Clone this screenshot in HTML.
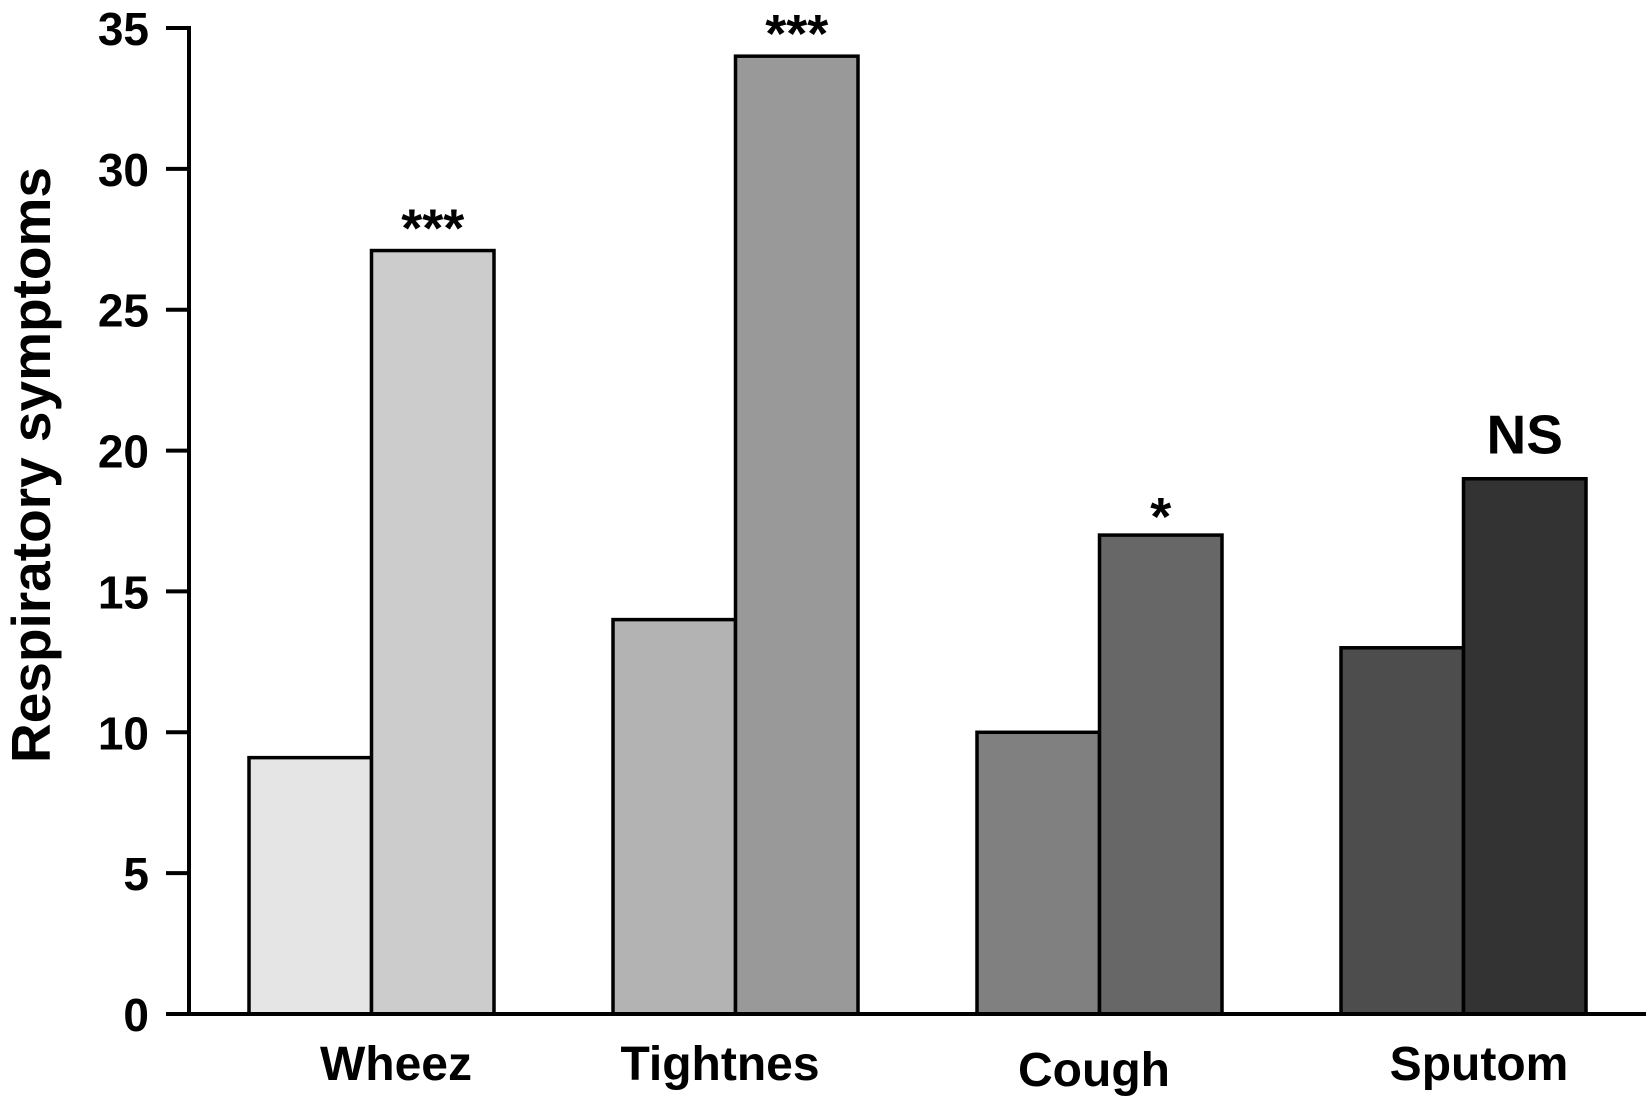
<!DOCTYPE html>
<html><head><meta charset="utf-8"><style>
html,body{margin:0;padding:0;background:#fff;}
svg{display:block;font-family:"Liberation Sans",Arial,sans-serif;font-weight:bold;}
</style></head><body>
<svg id="chart" width="1646" height="1097" viewBox="0 0 1646 1097"></svg>
<script>
const categories = ["Wheez","Tightnes","Cough","Sputom"];
const seriesA = [9.1,14,10,13];
const seriesB = [27.1,34,17,19];
const sigLabels = ["***","***","*","NS"];
const yTicks = [0,5,10,15,20,25,30,35];
const fillsA = ["#e5e5e5","#b3b3b3","#808080","#4d4d4d"];
const fillsB = ["#cccccc","#999999","#676767","#333333"];
const labelOffsets = [147,107,117,138];
const labelBaselines = [1080,1080,1086,1080];

const NS="http://www.w3.org/2000/svg";
const svg=document.getElementById('chart');
const y0=1014, pxPerUnit=986/35;
function yScale(v){return y0-v*pxPerUnit;}
function xGroup(i){return 249+364*i;}
const bw=122.5;
function mk(tag,attrs){const e=document.createElementNS(NS,tag);for(const k in attrs)e.setAttribute(k,attrs[k]);svg.appendChild(e);return e;}

categories.forEach((c,i)=>{
  const x=xGroup(i);
  const a=mk('rect',{x:x,y:yScale(seriesA[i]),width:bw,height:y0-yScale(seriesA[i]),fill:fillsA[i],stroke:'#000','stroke-width':3.5});
  
  
  const b=mk('rect',{x:x+bw,y:yScale(seriesB[i]),width:bw,height:y0-yScale(seriesB[i]),fill:fillsB[i],stroke:'#000','stroke-width':3.5});
  
  
  const isNS=sigLabels[i]==='NS';
  const s=mk('text',{x:x+bw*1.5,'text-anchor':'middle',y:isNS?yScale(seriesB[i])-25:yScale(seriesB[i])+(sigLabels[i]==='*'?0:-4),'font-size':isNS?55:54});
  s.textContent=sigLabels[i];
  
  
  const l=mk('text',{x:x+labelOffsets[i],y:labelBaselines[i],'text-anchor':'middle','font-size':48});
  l.textContent=c;
  
  
});

const ya=mk('line',{x1:189,y1:26,x2:189,y2:y0+1.5,stroke:'#000','stroke-width':4});


const xa=mk('line',{x1:187,y1:y0,x2:1646,y2:y0,stroke:'#000','stroke-width':4});


yTicks.forEach(t=>{
  const ln=mk('line',{x1:166,y1:yScale(t),x2:189,y2:yScale(t),stroke:'#000','stroke-width':4});
  
  
  const tx=mk('text',{x:149,y:yScale(t)+17,'text-anchor':'end','font-size':46});
  tx.textContent=t;
  
  
});
const yt=mk('text',{x:0,y:0,'text-anchor':'middle','font-size':55,transform:'translate(50,465) rotate(-90)'});
yt.textContent='Respiratory symptoms';


</script>
</body></html>
